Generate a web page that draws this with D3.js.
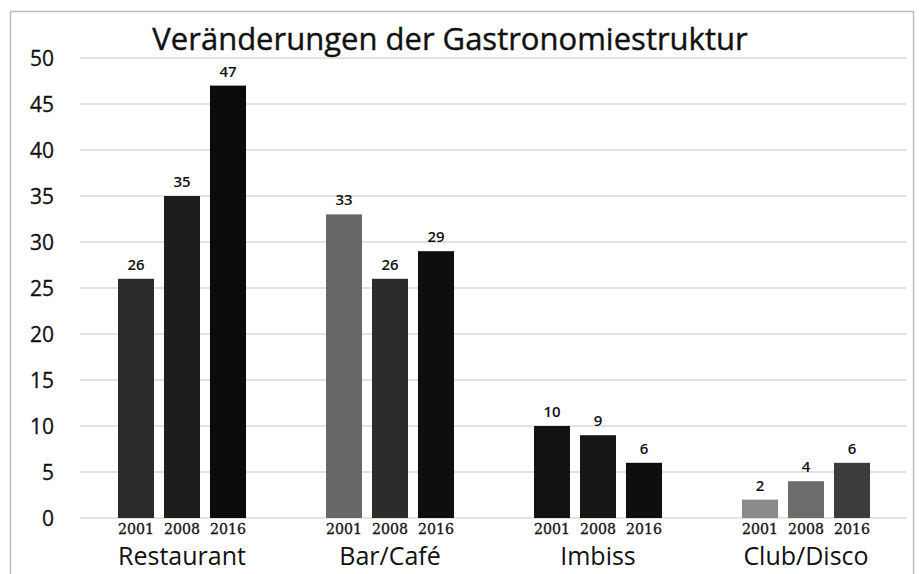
<!DOCTYPE html>
<html><head><meta charset="utf-8">
<script src="https://cdn.jsdelivr.net/npm/d3@7"></script>
<style>body{margin:0;background:#fff}svg{display:block}</style>
</head><body>
<svg id="c" width="919" height="574"></svg>
<script>
const categories = ["Restaurant", "Bar/Café", "Imbiss", "Club/Disco"];
const years = ["2001", "2008", "2016"];
const values2001 = [26, 33, 10, 2];
const values2008 = [35, 26, 9, 4];
const values2016 = [47, 29, 6, 6];
const yTicks = [0, 5, 10, 15, 20, 25, 30, 35, 40, 45, 50];
const barColors = [
  ["#2b2b2b", "#1d1d1d", "#0b0b0b"],
  ["#676767", "#2c2c2c", "#0e0e0e"],
  ["#121212", "#161616", "#0e0e0e"],
  ["#8a8a8a", "#6c6c6c", "#3d3d3d"]
];
const title = "Veränderungen der Gastronomiestruktur";

const series = [values2001, values2008, values2016];
const data = categories.map((c, i) => ({cat: c, vals: years.map((y, j) => ({year: y, v: series[j][i], color: barColors[i][j]}))}));

const svg = d3.select("#c");
const font = "'Open Sans', 'Noto Sans', sans-serif";

// frame
svg.append("rect").attr("x", 10.5).attr("y", 11.5).attr("width", 903).attr("height", 580)
  .attr("fill", "none").attr("stroke", "#bdbdbd").attr("stroke-width", 1.5);

const x0 = d3.scaleBand().domain(categories).range([78, 910]).padding(0);
const groupW = 128;
const x1 = d3.scaleBand().domain(years).range([0, groupW]).paddingInner(0.217).paddingOuter(0);
const y = d3.scaleLinear().domain([0, 50]).range([518, 58]);

// gridlines
svg.append("g").selectAll("line").data(yTicks).join("line")
  .attr("x1", 80).attr("x2", 906)
  .attr("y1", d => y(d)).attr("y2", d => y(d))
  .attr("stroke", "#d9d9d9").attr("stroke-width", 1.5);

// y axis labels
const yAxis = d3.axisLeft(y).tickValues(yTicks).tickSize(0).tickPadding(0);
const ga = svg.append("g").attr("transform", "translate(54,0)").call(yAxis);
ga.select(".domain").remove();
ga.selectAll("text").attr("font-family", font).attr("font-size", 21)
  .attr("fill", "#111").attr("stroke", "#111").attr("stroke-width", 0.3).attr("dy", "0.35em");

// title
svg.append("text").attr("x", 450).attr("y", 50).attr("text-anchor", "middle")
  .attr("font-family", font).attr("font-size", 31)
  .attr("fill", "#111").attr("stroke", "#111").attr("stroke-width", 0.4).text(title);

const groups = svg.append("g").selectAll("g").data(data).join("g")
  .attr("transform", d => `translate(${x0(d.cat) + x0.bandwidth() / 2 - groupW / 2},0)`);

groups.selectAll("rect").data(d => d.vals).join("rect")
  .attr("x", d => x1(d.year)).attr("width", x1.bandwidth())
  .attr("y", d => y(d.v)).attr("height", d => y(0) - y(d.v))
  .attr("fill", d => d.color);

groups.selectAll("text.val").data(d => d.vals).join("text").attr("class", "val")
  .attr("x", d => x1(d.year) + x1.bandwidth() / 2).attr("y", d => y(d.v) - 9)
  .attr("text-anchor", "middle").attr("font-family", font).attr("font-weight", 600)
  .attr("font-size", 15).attr("fill", "#111").text(d => d.v);

groups.selectAll("text.yr").data(d => d.vals).join("text").attr("class", "yr")
  .attr("x", d => x1(d.year) + x1.bandwidth() / 2).attr("y", 534)
  .attr("text-anchor", "middle").attr("font-family", "'DejaVu Serif', serif")
  .attr("font-size", 14).attr("fill", "#111").attr("stroke", "#111").attr("stroke-width", 0.3)
  .attr("textLength", 36).attr("lengthAdjust", "spacingAndGlyphs").text(d => d.year);

groups.append("text").attr("x", groupW / 2).attr("y", 565).attr("text-anchor", "middle")
  .attr("font-family", font).attr("font-size", 25).attr("fill", "#111").text(d => d.cat);
</script>
</body></html>
